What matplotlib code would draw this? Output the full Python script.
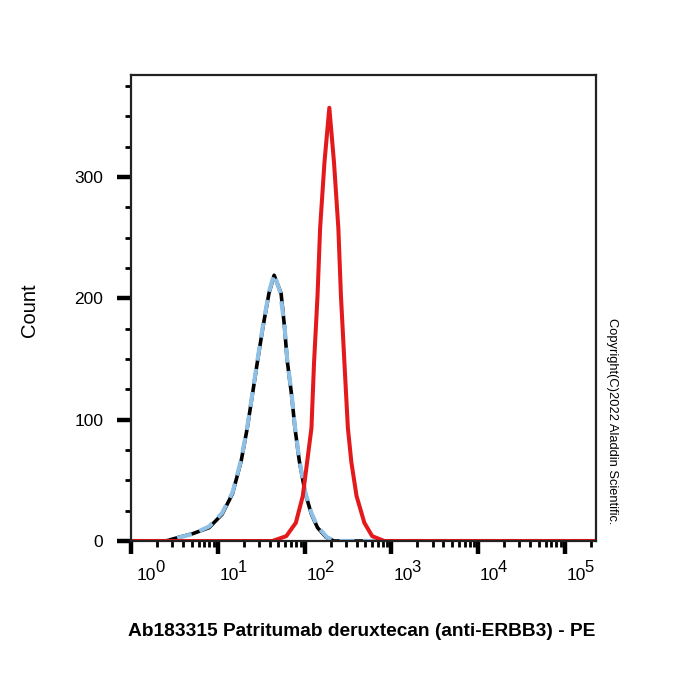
import matplotlib
matplotlib.use('Agg')
import matplotlib.pyplot as plt
import matplotlib.transforms as mtransforms
from matplotlib.ticker import FixedLocator, NullFormatter
import numpy as np

plt.rcParams['font.family'] = ['Liberation Sans', 'DejaVu Sans']

# histogram curves, x given in log10 decades
black_log = [0.0, 0.40, 0.55, 0.71, 0.90, 1.05, 1.17, 1.27, 1.34, 1.40, 1.46, 1.52, 1.59, 1.65,
             1.73, 1.77, 1.80, 1.85, 1.89, 1.94, 2.01, 2.08, 2.15, 2.25, 2.34, 5.4]
black_cnt = [0, 0, 3, 6, 11, 22, 39, 66, 93, 121, 149, 176, 204, 219,
             204, 176, 149, 121, 93, 66, 39, 22, 11, 3, 0, 0]
blue_log = [0.0, 0.42, 0.56, 0.72, 0.90, 1.05, 1.17, 1.27, 1.34, 1.40, 1.46, 1.52, 1.59, 1.65,
            1.72, 1.77, 1.80, 1.85, 1.89, 1.94, 2.01, 2.08, 2.15, 2.26, 2.36, 5.4]
blue_cnt = [0, 0, 3, 6, 12, 23, 40, 67, 94, 122, 150, 177, 205, 220,
            205, 177, 150, 122, 94, 67, 40, 23, 12, 3, 0, 0]
red_log = [0.0, 1.63, 1.79, 1.90, 1.98, 2.03, 2.08, 2.11, 2.15, 2.18, 2.23, 2.286,
           2.34, 2.39, 2.42, 2.46, 2.50, 2.54, 2.60, 2.69, 2.78, 2.92, 5.4]
red_cnt = [0, 0, 4, 15, 37, 65, 93, 147, 202, 258, 312, 357,
           312, 258, 202, 147, 93, 65, 37, 15, 4, 0, 0]

y_major = [0, 100, 200, 300]
y_minor = [25, 50, 75, 125, 150, 175, 225, 250, 275, 325, 350, 375]
x_decades = [0, 1, 2, 3, 4, 5]

fig = plt.figure(figsize=(7, 7), dpi=100)
ax = fig.add_axes([131/700, 1-541/700, 465/700, 466/700])

ax.plot(10**np.array(black_log), black_cnt, color='black', lw=2.6,
        solid_joinstyle='round')
ax.plot(10**np.array(blue_log), blue_cnt, color='#8ec0e6', lw=3.0, dashes=(3.6, 2.0),
        dash_joinstyle='round')
ax.plot(10**np.array(red_log), red_cnt, color='#e3191c', lw=2.9,
        solid_joinstyle='round')

ax.set_xscale('log')
ax.set_xlim(1, 10**5.36)
ax.set_ylim(0, 384)

major_x = [10.0**d for d in x_decades]
minor_x = [m * 10.0**d for d in range(0, 6) for m in range(2, 10)]
ax.xaxis.set_major_locator(FixedLocator(major_x))
ax.xaxis.set_minor_locator(FixedLocator(minor_x))
ax.xaxis.set_major_formatter(NullFormatter())
ax.xaxis.set_minor_formatter(NullFormatter())
ax.yaxis.set_major_locator(FixedLocator(y_major))
ax.yaxis.set_minor_locator(FixedLocator(y_minor))

ax.tick_params(axis='x', which='major', length=9, width=3.2, direction='out', color='black')
ax.tick_params(axis='x', which='minor', length=4.5, width=2, direction='out', color='black')
ax.tick_params(axis='y', which='major', length=10, width=3.2, direction='out',
               labelsize=12.5, pad=10, color='black')
ax.tick_params(axis='y', which='minor', length=4.5, width=2, direction='out', color='black')

# decade labels: "10" with a full-size raised exponent, set right of the tick
blend = mtransforms.blended_transform_factory(ax.transData, ax.transAxes)
for d in x_decades:
    dx = 6 if d == 0 else 2
    base_tr = blend + mtransforms.ScaledTranslation(dx/100, -39/100, fig.dpi_scale_trans)
    exp_tr = blend + mtransforms.ScaledTranslation((dx + 18)/100, -31/100, fig.dpi_scale_trans)
    ax.text(10.0**d, 0, '10', transform=base_tr, fontsize=12.5,
            ha='left', va='baseline', clip_on=False)
    ax.text(10.0**d, 0, str(d), transform=exp_tr, fontsize=12,
            ha='left', va='baseline', clip_on=False)

for sp in ax.spines.values():
    sp.set_linewidth(1.6)
    sp.set_color('#222222')

fig.text(30/700, 1-310/700, 'Count', rotation=90, fontsize=14.5, ha='center', va='center')
fig.text(362/700, 1-632/700, 'Ab183315 Patritumab deruxtecan (anti-ERBB3) - PE',
         fontsize=13.8, fontweight='bold', ha='center', va='center')
fig.text(612/700, 1-421/700, 'Copyright(C)2022 Aladdin Scientific.', rotation=-90,
         fontsize=9.3, ha='center', va='center')

fig.savefig('out.png', dpi=100)
